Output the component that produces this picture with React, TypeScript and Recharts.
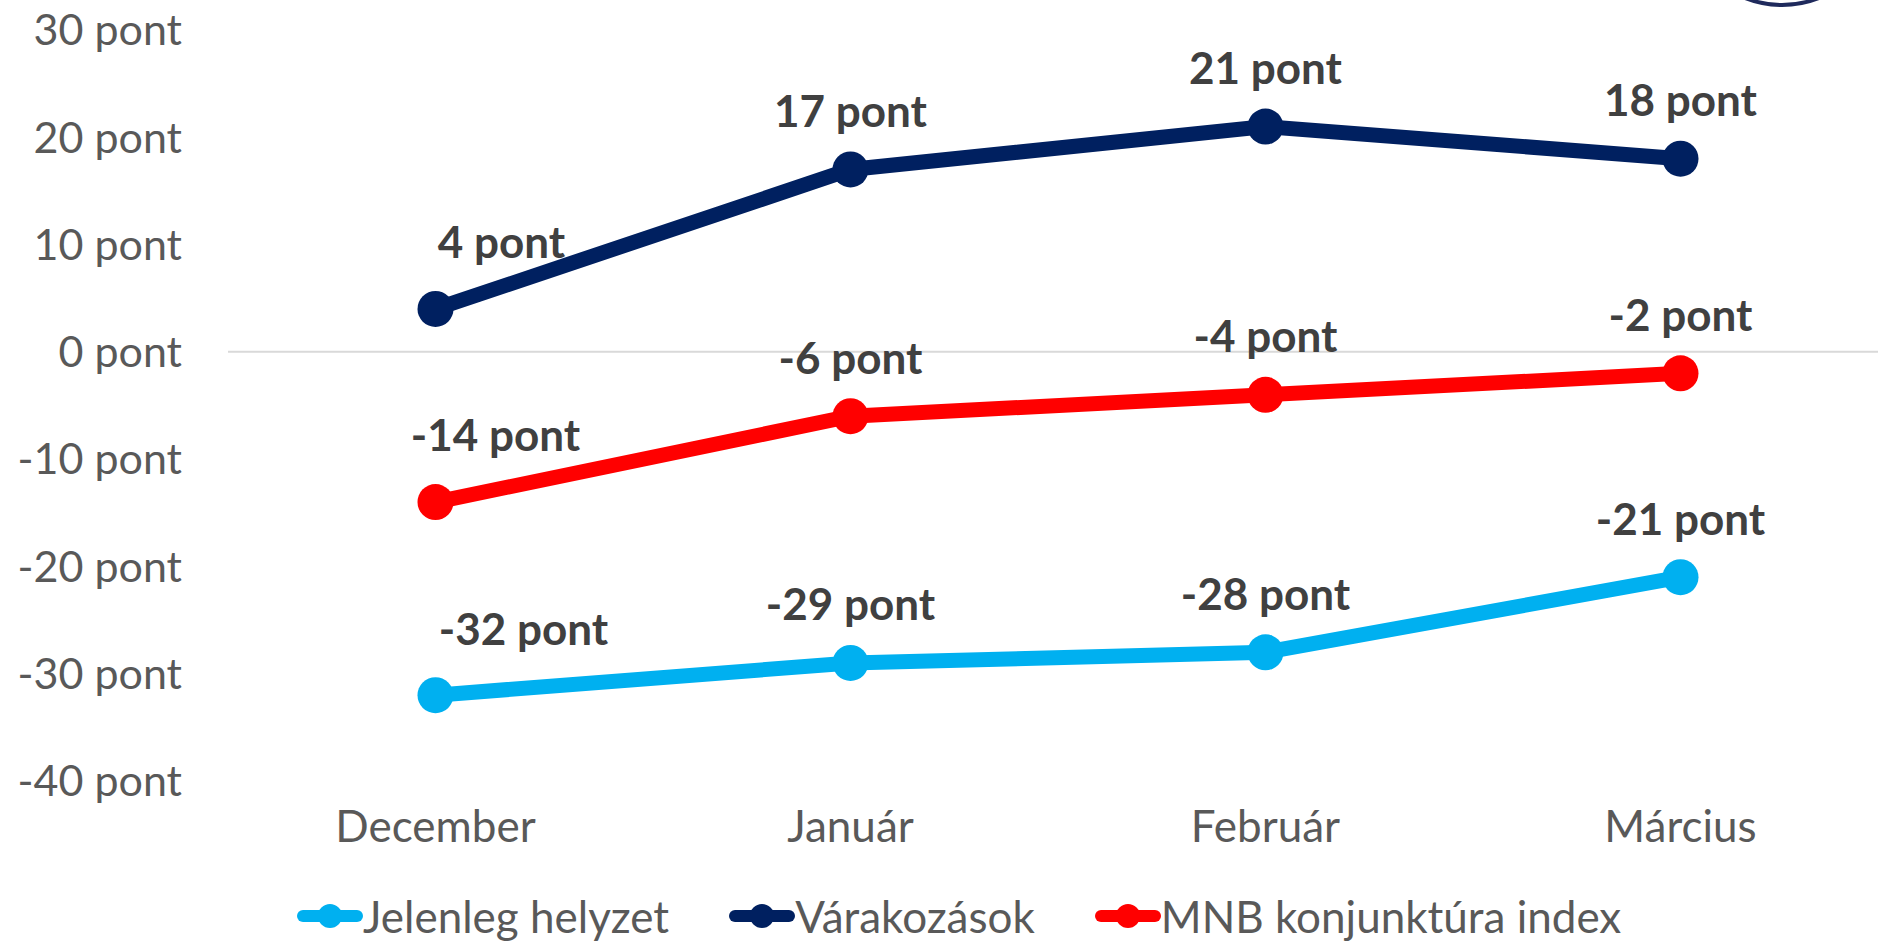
import React from "react";
import { LineChart, Line, XAxis, YAxis, ReferenceLine } from "recharts";

const categories = ["December", "Január", "Február", "Március"];
const jelenleg = [-32, -29, -28, -21];
const varakozasok = [4, 17, 21, 18];
const mnbIndex = [-14, -6, -4, -2];
const yTicks = [-40, -30, -20, -10, 0, 10, 20, 30];

const seriesDefs = [
  { key: "jelenleg", name: "Jelenleg helyzet", color: "#00B0F0", firstDx: 88 },
  { key: "varakozasok", name: "Várakozások", color: "#002060", firstDx: 66 },
  { key: "mnb", name: "MNB konjunktúra index", color: "#FF0000", firstDx: 60 },
];

const data = categories.map((c, i) => ({
  cat: c,
  jelenleg: jelenleg[i],
  varakozasok: varakozasok[i],
  mnb: mnbIndex[i],
}));

const FONT = "Lato, 'Open Sans', sans-serif";

const makeLabel = (firstDx: number) => (props: any) => {
  const { x, y, value, index } = props;
  const isFirst = index === 0;
  const cx = x + (isFirst ? firstDx : 0);
  const cy = y - (isFirst ? 66 : 58);
  return (
    <text
      x={cx}
      y={cy}
      dy="0.35em"
      textAnchor="middle"
      fontFamily={FONT}
      fontWeight={700}
      fontSize={44}
      fill="#404040"
    >
      {`${value} pont`}
    </text>
  );
};

const LegendIcon = ({ color }: { color: string }) => (
  <svg width={66} height={26} style={{ display: "block" }}>
    <line x1={6} y1={13} x2={60} y2={13} stroke={color} strokeWidth={12} strokeLinecap="round" />
    <circle cx={33} cy={13} r={12} fill={color} />
  </svg>
);

export default function App() {
  return (
    <div
      style={{
        position: "absolute",
        left: 0,
        top: 0,
        width: 1878,
        height: 946,
        overflow: "hidden",
        background: "#fff",
      }}
    >
      <LineChart
        width={1900}
        height={946}
        data={data}
        margin={{ top: 30, right: 12, bottom: 85, left: 0 }}
      >
        <XAxis
          dataKey="cat"
          scale="band"
          axisLine={false}
          tickLine={false}
          height={80}
          tickMargin={24}
          tick={{ fontFamily: FONT, fontSize: 44, fill: "#595959" }}
          interval={0}
        />
        <YAxis
          width={228}
          domain={[-40, 30]}
          ticks={yTicks}
          axisLine={false}
          tickLine={false}
          tickMargin={40}
          tickFormatter={(v: number) => `${v} pont`}
          tick={{ fontFamily: FONT, fontSize: 43, fill: "#595959" }}
          interval={0}
        />
        <ReferenceLine y={0} stroke="#d9d9d9" strokeWidth={2} />
        {seriesDefs.map((s) => (
          <Line
            key={s.key}
            dataKey={s.key}
            name={s.name}
            stroke={s.color}
            strokeWidth={15}
            dot={{ r: 18, fill: s.color, stroke: "none" }}
            activeDot={false}
            isAnimationActive={false}
            label={makeLabel(s.firstDx)}
          />
        ))}
      </LineChart>
      <div
        style={{
          position: "absolute",
          left: 297,
          top: 890,
          display: "flex",
          alignItems: "center",
          gap: 60,
          fontFamily: FONT,
          fontSize: 44,
          color: "#595959",
          whiteSpace: "nowrap",
          lineHeight: "52px",
        }}
      >
        {seriesDefs.map((s) => (
          <div key={s.key} style={{ display: "flex", alignItems: "center" }}>
            <LegendIcon color={s.color} />
            <span>{s.name}</span>
          </div>
        ))}
      </div>
      <svg
        width={1878}
        height={20}
        style={{ position: "absolute", left: 0, top: 0, pointerEvents: "none" }}
      >
        <circle cx={1782} cy={-96} r={101} fill="none" stroke="#1f2a5c" strokeWidth={4} />
      </svg>
    </div>
  );
}
